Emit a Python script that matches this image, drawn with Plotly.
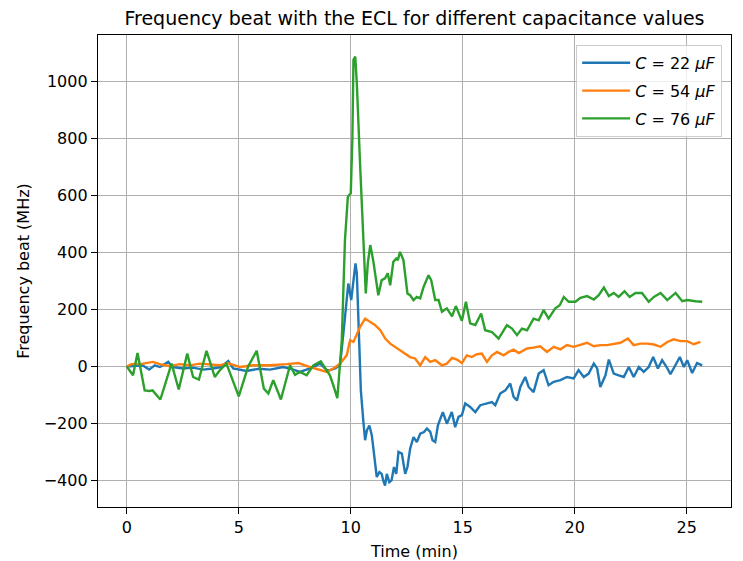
import plotly.graph_objects as go

# Time (min) and frequency beat (MHz) for each capacitance
t_22 = [0, 0.43, 0.7, 1.0, 1.25, 1.48, 1.85, 2.05, 2.52, 2.95, 3.41, 3.85, 4.2, 4.53, 4.75,
        5.35, 5.9, 6.39, 6.99, 7.4, 7.73, 8.18, 8.63, 8.93, 9.07, 9.3, 9.52, 9.67, 9.82, 9.89,
        10.02, 10.12, 10.21, 10.27, 10.34, 10.45, 10.57, 10.64, 10.72, 10.83, 10.94, 11.06,
        11.16, 11.28, 11.38, 11.45, 11.53, 11.61, 11.72, 11.82, 11.93, 12.03, 12.13, 12.28,
        12.43, 12.53, 12.65, 12.8, 12.95, 13.1, 13.27, 13.4, 13.55, 13.65, 13.77, 13.89,
        14.11, 14.29, 14.51, 14.66, 14.81, 14.96, 15.11, 15.33, 15.56, 15.78, 16.08, 16.3,
        16.45, 16.67, 16.9, 17.12, 17.27, 17.42, 17.57, 17.79, 17.94, 18.16, 18.39, 18.61,
        18.83, 19.06, 19.36, 19.65, 19.95, 20.17, 20.4, 20.62, 20.85, 21.0, 21.14, 21.37,
        21.52, 21.74, 21.96, 22.19, 22.41, 22.63, 22.86, 23.08, 23.3, 23.5, 23.71, 23.9,
        24.1, 24.27, 24.45, 24.69, 24.87, 25.02, 25.24, 25.46, 25.69]
f_22 = [0, 1, 4, -11, 4, -2, 16, -2, -7, -4, -11, -7, -2, 19, -7,
        -16, -8, -11, -2, -10, -19, -7, 10, -13, -13, -7, 4, 116, 256, 291,
        233, 303, 362, 327, 151, -84, -201, -259, -224, -207, -242, -318,
        -388, -371, -377, -400, -418, -377, -406, -400, -353, -377, -300, -306,
        -377, -353, -289, -248, -265, -236, -230, -218, -230, -259, -265, -207,
        -160, -201, -160, -213, -177, -171, -130, -142, -160, -136, -130, -125,
        -136, -95, -84, -60, -107, -119, -72, -37, -72, -90, -25, -13,
        -66, -54, -48, -37, -42, -13, -37, -25, 10, -7, -72, -31,
        24, -25, -31, -37, -2, -37, -2, -19, -2, 33, -7, 22,
        -2, -27, -2, 33, -2, 22, -23, 12, 4]

t_54 = [0, 0.2, 0.73, 1.17, 1.48, 1.92, 2.37, 2.82, 3.26, 3.7, 4.16, 4.5, 5.05, 5.65, 6.39,
        7.14, 7.66, 8.18, 8.63, 8.93, 9.22, 9.52, 9.82, 9.97, 10.12, 10.27, 10.42, 10.64,
        10.87, 11.09, 11.32, 11.54, 11.76, 11.98, 12.2, 12.43, 12.65, 12.87, 13.1, 13.32,
        13.55, 13.77, 14.07, 14.29, 14.52, 14.74, 14.96, 15.18, 15.4, 15.63, 15.85, 16.08,
        16.3, 16.53, 16.82, 17.05, 17.27, 17.5, 17.87, 18.16, 18.46, 18.76, 19.06, 19.36,
        19.65, 19.95, 20.25, 20.55, 20.85, 21.14, 21.44, 21.74, 22.04, 22.37, 22.63, 22.93,
        23.23, 23.53, 23.83, 24.13, 24.42, 24.72, 25.02, 25.31, 25.61]
f_54 = [0, 8, 10, 16, 8, 1, 8, 4, 10, 8, 4, 12, -2, 4, 4,
        8, 12, -2, -13, -19, -7, 10, 39, 92, 86, 116, 139, 168,
        156, 145, 127, 98, 80, 69, 57, 45, 33, 28, 4, 33,
        16, 22, 4, 10, 30, 24, 12, 39, 33, 43, 45, 16,
        39, 51, 39, 51, 59, 47, 63, 66, 71, 51, 69, 60,
        75, 69, 75, 83, 71, 75, 75, 80, 83, 98, 75, 80,
        80, 77, 69, 86, 95, 89, 89, 78, 86]

t_76 = [0, 0.28, 0.48, 0.8, 1.03, 1.15, 1.5, 2.0, 2.32, 2.7, 2.96, 3.22, 3.56, 3.93, 4.16,
        4.45, 5.0, 5.42, 5.8, 6.12, 6.32, 6.54, 6.88, 7.29, 7.51, 7.73, 8.03, 8.33, 8.66,
        9.07, 9.22, 9.4, 9.6, 9.74, 9.87, 10.0, 10.07, 10.12, 10.2, 10.27, 10.42, 10.57,
        10.67, 10.76, 10.87, 11.0, 11.16, 11.23, 11.38, 11.53, 11.65, 11.76, 11.9, 12.03,
        12.1, 12.2, 12.35, 12.53, 12.65, 12.8, 12.95, 13.1, 13.25, 13.47, 13.59, 13.77,
        13.92, 14.07, 14.29, 14.52, 14.69, 14.96, 15.14, 15.33, 15.56, 15.82, 16.0, 16.3,
        16.6, 16.97, 17.2, 17.42, 17.64, 17.87, 18.16, 18.39, 18.61, 18.83, 19.13, 19.33,
        19.51, 19.73, 20.03, 20.25, 20.55, 20.85, 21.07, 21.3, 21.52, 21.74, 21.96, 22.22,
        22.45, 22.71, 23.0, 23.3, 23.53, 23.83, 24.13, 24.5, 24.8, 25.02, 25.39, 25.69]
f_76 = [0, -31, 47, -84, -86, -84, -116, 10, -81, 45, -37, -46, 55, -37, -13,
        10, -105, 0, 55, -78, -95, -48, -116, 4, -29, -19, -31, 4, 18,
        -31, -66, -111, 92, 443, 596, 608, 795, 1076, 1088, 994, 701, 397,
        256, 362, 426, 373, 279, 250, 303, 309, 327, 285, 367, 379,
        373, 402, 373, 256, 250, 233, 244, 239, 279, 320, 303, 233,
        233, 192, 204, 176, 212, 160, 227, 151, 145, 186, 127, 121,
        98, 145, 133, 110, 133, 127, 168, 162, 198, 168, 204, 215,
        244, 227, 227, 241, 247, 235, 250, 277, 247, 258, 244, 264,
        244, 258, 258, 227, 244, 258, 233, 258, 229, 233, 229, 227]

labels = ["<i>C</i> = 22 <i>μF</i>", "<i>C</i> = 54 <i>μF</i>", "<i>C</i> = 76 <i>μF</i>"]
colors = ["#1f77b4", "#ff7f0e", "#2ca02c"]
x_ticks = [0, 5, 10, 15, 20, 25]
y_ticks = [-400, -200, 0, 200, 400, 600, 800, 1000]

fig = go.Figure()
for i, (t, f, name, c) in enumerate(zip([t_22, t_54, t_76], [f_22, f_54, f_76], labels, colors)):
    fig.add_trace(go.Scatter(x=t, y=f, mode="lines", name=name, legendgroup=f"g{i}",
                             line=dict(color=c, width=2.4)))

# 5% padding around the data, like the default autoscale margins
all_t = t_22 + t_54 + t_76
all_f = f_22 + f_54 + f_76
tx0, tx1 = min(all_t), max(all_t)
fy0, fy1 = min(all_f), max(all_f)
px, py = 0.05 * (tx1 - tx0), 0.05 * (fy1 - fy0)

font = "DejaVu Sans"
axis_common = dict(showline=True, linecolor="black", linewidth=1.3, mirror=True,
                   ticks="outside", ticklen=6, tickwidth=1.3, tickcolor="black",
                   showgrid=True, gridcolor="#b0b0b0", gridwidth=1.3,
                   zeroline=False, automargin=False,
                   tickfont=dict(family=font, size=16, color="black"))

fig.update_layout(
    width=743, height=561,
    margin=dict(l=98, r=12, t=35, b=54),
    paper_bgcolor="white", plot_bgcolor="white",
    font=dict(family=font, color="black"),
    title=dict(text="Frequency beat with the ECL for different capacitance values",
               x=0.5, xref="paper", xanchor="center",
               y=0.968, yref="container", yanchor="middle",
               font=dict(family=font, size=19, color="black")),
    xaxis=dict(range=[tx0 - px, tx1 + px], tickvals=x_ticks,
               title=dict(text="Time (min)", font=dict(size=16), standoff=10),
               **axis_common),
    yaxis=dict(range=[fy0 - py, fy1 + py], tickvals=y_ticks,
               ticktext=[str(v).replace("-", "\u2212") for v in y_ticks],
               title=dict(text="Frequency beat (MHz)", font=dict(size=16), standoff=10),
               **axis_common),
    legend=dict(x=0.986, xanchor="right", y=0.979, yanchor="top",
                bgcolor="rgba(255,255,255,0.8)", bordercolor="#cccccc", borderwidth=1,
                font=dict(family=font, size=16, color="black"),
                itemwidth=48, tracegroupgap=4),
    showlegend=True,
)

fig.write_html("out.html")
